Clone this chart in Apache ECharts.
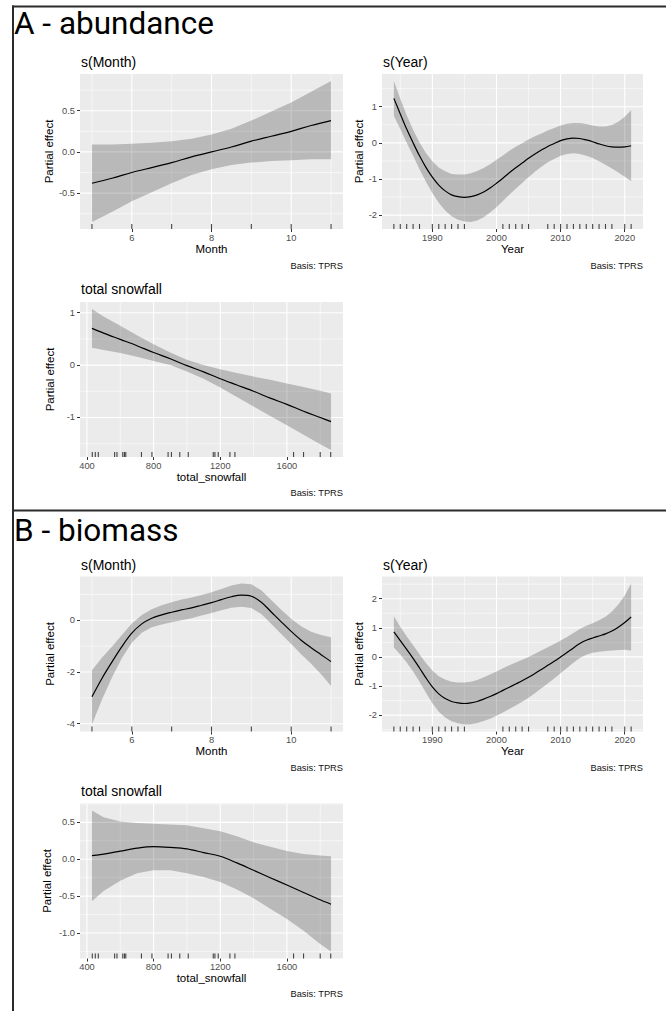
<!DOCTYPE html>
<html>
<head>
<meta charset="utf-8">
<script src="https://cdn.jsdelivr.net/npm/echarts@6/dist/echarts.min.js"></script>
<style>
  html, body { margin: 0; padding: 0; background: #ffffff; }
  #chart { width: 666px; height: 1011px; }
</style>
</head>
<body>
<div id="chart"></div>
<script>
// ---------- smooth terms: abundance model ----------
const abMonthX   = [5, 5.5, 6, 6.5, 7, 7.5, 8, 8.5, 9, 9.5, 10, 10.5, 11];
const abMonthFit = [-0.38, -0.32, -0.25, -0.19, -0.13, -0.06, 0.00, 0.06, 0.13, 0.19, 0.25, 0.32, 0.38];
const abMonthLo  = [-0.85, -0.73, -0.60, -0.49, -0.38, -0.28, -0.21, -0.16, -0.13, -0.11, -0.10, -0.09, -0.09];
const abMonthHi  = [0.09, 0.09, 0.10, 0.11, 0.13, 0.16, 0.21, 0.28, 0.38, 0.49, 0.60, 0.73, 0.86];

const yearX = [1984, 1985, 1986, 1987, 1988, 1989, 1990, 1991, 1992, 1993, 1994, 1995, 1996,
               1997, 1998, 1999, 2000, 2001, 2002, 2003, 2004, 2005, 2006, 2007, 2008, 2009,
               2010, 2011, 2012, 2013, 2014, 2015, 2016, 2017, 2018, 2019, 2020, 2021];
const abYearFit = [1.23, 0.80, 0.38, 0.00, -0.36, -0.68, -0.95, -1.17, -1.33, -1.44, -1.49, -1.51, -1.49,
                   -1.44, -1.36, -1.25, -1.12, -0.98, -0.83, -0.69, -0.56, -0.43, -0.31, -0.20, -0.10, -0.02,
                   0.06, 0.11, 0.13, 0.12, 0.08, 0.03, -0.03, -0.08, -0.11, -0.12, -0.11, -0.08];
const abYearLo  = [0.75, 0.38, 0.00, -0.36, -0.73, -1.08, -1.39, -1.66, -1.87, -2.03, -2.13, -2.18, -2.19,
                   -2.15, -2.06, -1.93, -1.78, -1.61, -1.44, -1.27, -1.11, -0.95, -0.80, -0.66, -0.54, -0.45,
                   -0.36, -0.31, -0.29, -0.31, -0.36, -0.42, -0.51, -0.61, -0.71, -0.82, -0.94, -1.06];
const abYearHi  = [1.71, 1.22, 0.76, 0.36, 0.01, -0.28, -0.51, -0.68, -0.79, -0.86, -0.88, -0.88, -0.84,
                   -0.78, -0.70, -0.59, -0.47, -0.35, -0.22, -0.11, -0.01, 0.09, 0.18, 0.26, 0.34, 0.41,
                   0.48, 0.53, 0.55, 0.55, 0.52, 0.48, 0.45, 0.45, 0.49, 0.58, 0.72, 0.90];

const snowX = [430, 500, 600, 700, 800, 900, 1000, 1100, 1200, 1300, 1400, 1500, 1600, 1700, 1800, 1865];
const abSnowFit = [0.70, 0.61, 0.49, 0.37, 0.24, 0.12, -0.01, -0.13, -0.26, -0.38, -0.50, -0.63, -0.75, -0.88, -1.00, -1.08];
const abSnowLo  = [0.33, 0.29, 0.23, 0.16, 0.08, 0.00, -0.12, -0.26, -0.43, -0.61, -0.79, -0.97, -1.15, -1.33, -1.51, -1.62];
const abSnowHi  = [1.07, 0.93, 0.75, 0.57, 0.40, 0.24, 0.10, 0.00, -0.08, -0.15, -0.22, -0.28, -0.35, -0.42, -0.49, -0.54];

// ---------- smooth terms: biomass model ----------
const bmMonthX   = [5, 5.25, 5.5, 5.75, 6, 6.25, 6.5, 6.75, 7, 7.25, 7.5, 7.75, 8,
                    8.25, 8.5, 8.75, 9, 9.25, 9.5, 9.75, 10, 10.25, 10.5, 10.75, 11];
const bmMonthFit = [-2.96, -2.25, -1.62, -1.02, -0.50, -0.14, 0.08, 0.21, 0.31, 0.40, 0.48, 0.58, 0.68,
                    0.80, 0.91, 0.97, 0.93, 0.70, 0.32, -0.06, -0.43, -0.77, -1.06, -1.33, -1.60];
const bmMonthLo  = [-4.03, -3.07, -2.22, -1.47, -0.87, -0.48, -0.27, -0.16, -0.08, 0.00, 0.08, 0.18, 0.28,
                    0.39, 0.48, 0.52, 0.47, 0.24, -0.14, -0.53, -0.92, -1.31, -1.68, -2.09, -2.54];
const bmMonthHi  = [-1.93, -1.45, -1.02, -0.57, -0.13, 0.20, 0.43, 0.58, 0.70, 0.80, 0.88, 0.98, 1.08,
                    1.21, 1.34, 1.42, 1.39, 1.16, 0.78, 0.41, 0.06, -0.23, -0.44, -0.57, -0.66];

const bmYearFit = [0.86, 0.56, 0.26, -0.05, -0.38, -0.72, -1.03, -1.27, -1.43, -1.53, -1.58, -1.60, -1.58,
                   -1.53, -1.45, -1.36, -1.26, -1.15, -1.04, -0.93, -0.82, -0.70, -0.57, -0.43, -0.29, -0.15,
                   0.00, 0.15, 0.31, 0.46, 0.57, 0.65, 0.72, 0.79, 0.89, 1.02, 1.18, 1.37];
const bmYearLo  = [0.32, 0.08, -0.19, -0.50, -0.85, -1.23, -1.59, -1.88, -2.08, -2.21, -2.28, -2.32, -2.31,
                   -2.27, -2.20, -2.12, -2.02, -1.91, -1.79, -1.67, -1.54, -1.40, -1.25, -1.08, -0.91, -0.74,
                   -0.56, -0.38, -0.20, -0.04, 0.07, 0.14, 0.18, 0.20, 0.22, 0.24, 0.25, 0.22];
const bmYearHi  = [1.40, 1.04, 0.71, 0.40, 0.09, -0.21, -0.47, -0.66, -0.78, -0.85, -0.88, -0.88, -0.85,
                   -0.79, -0.70, -0.60, -0.50, -0.39, -0.29, -0.19, -0.10, 0.00, 0.11, 0.22, 0.33, 0.44,
                   0.56, 0.68, 0.82, 0.96, 1.07, 1.16, 1.26, 1.38, 1.56, 1.80, 2.11, 2.52];

const bmSnowFit = [0.05, 0.07, 0.11, 0.15, 0.17, 0.16, 0.14, 0.09, 0.04, -0.05, -0.15, -0.25, -0.35, -0.45, -0.55, -0.61];
const bmSnowLo  = [-0.57, -0.43, -0.29, -0.19, -0.15, -0.15, -0.19, -0.24, -0.31, -0.41, -0.53, -0.67, -0.81, -0.97, -1.15, -1.25];
const bmSnowHi  = [0.66, 0.57, 0.51, 0.49, 0.48, 0.47, 0.46, 0.42, 0.38, 0.31, 0.23, 0.17, 0.11, 0.07, 0.05, 0.04];

// ---------- observed covariate values (rug) ----------
const monthRug = [5, 6, 7, 8, 9, 10, 11];
const yearRug  = [1984, 1985, 1986, 1987, 1988, 1990, 1991, 1992, 1993, 1994, 1995,
                  2001, 2002, 2003, 2004, 2005, 2008, 2009, 2010, 2011, 2012, 2013,
                  2014, 2015, 2016, 2017, 2018, 2020, 2021];
const snowRug  = [432, 450, 468, 566, 580, 615, 625, 633, 727, 790, 887, 907, 957, 1008,
                  1158, 1168, 1188, 1258, 1288, 1640, 1700, 1800, 1863];

// ---------- axis breaks ----------
const monthTicks    = [6, 8, 10];
const yearTicks     = [1990, 2000, 2010, 2020];
const snowTicks     = [400, 800, 1200, 1600];
const abMonthYTicks = [-0.5, 0, 0.5];
const abYearYTicks  = [-2, -1, 0, 1];
const abSnowYTicks  = [-1, 0, 1];
const bmMonthYTicks = [-4, -2, 0];
const bmYearYTicks  = [-2, -1, 0, 1, 2];
const bmSnowYTicks  = [-1, -0.5, 0, 0.5];

// ---------- panel layout ----------
const FONT = '"Liberation Sans", Arial, sans-serif';
const panels = [
  { grid: { left: 80,  top: 74,    width: 263, height: 155 }, title: 's(Month)', xName: 'Month',
    x: abMonthX, fit: abMonthFit, lo: abMonthLo, hi: abMonthHi, rug: monthRug,
    xTicks: monthTicks, yTicks: abMonthYTicks, yDigits: 1, nameX: 50, titleY: 62, capY: 265.5 },
  { grid: { left: 382, top: 74,    width: 261, height: 155 }, title: 's(Year)', xName: 'Year',
    x: yearX, fit: abYearFit, lo: abYearLo, hi: abYearHi, rug: yearRug,
    xTicks: yearTicks, yTicks: abYearYTicks, yDigits: 0, nameX: 359, titleY: 62, capY: 265.5 },
  { grid: { left: 80,  top: 302,   width: 263, height: 155 }, title: 'total snowfall', xName: 'total_snowfall',
    x: snowX, fit: abSnowFit, lo: abSnowLo, hi: abSnowHi, rug: snowRug,
    xTicks: snowTicks, yTicks: abSnowYTicks, yDigits: 0, nameX: 50, titleY: 288.5, capY: 493 },
  { grid: { left: 80,  top: 576.5, width: 263, height: 155 }, title: 's(Month)', xName: 'Month',
    x: bmMonthX, fit: bmMonthFit, lo: bmMonthLo, hi: bmMonthHi, rug: monthRug,
    xTicks: monthTicks, yTicks: bmMonthYTicks, yDigits: 0, nameX: 50, titleY: 565, capY: 767.5 },
  { grid: { left: 382, top: 576.5, width: 261, height: 155 }, title: 's(Year)', xName: 'Year',
    x: yearX, fit: bmYearFit, lo: bmYearLo, hi: bmYearHi, rug: yearRug,
    xTicks: yearTicks, yTicks: bmYearYTicks, yDigits: 0, nameX: 359, titleY: 565, capY: 767.5 },
  { grid: { left: 80,  top: 803.5, width: 263, height: 155 }, title: 'total snowfall', xName: 'total_snowfall',
    x: snowX, fit: bmSnowFit, lo: bmSnowLo, hi: bmSnowHi, rug: snowRug,
    xTicks: snowTicks, yTicks: bmSnowYTicks, yDigits: 1, nameX: 47, titleY: 790.5, capY: 994 }
];

// ggplot-style 5% expansion of a continuous range
function expandRange(values) {
  const lo = Math.min.apply(null, values), hi = Math.max.apply(null, values);
  const pad = (hi - lo) * 0.05;
  return [lo - pad, hi + pad];
}

// minor breaks sit halfway between the major breaks (and one step beyond them)
function minorBreaks(ticks, range) {
  const step = ticks[1] - ticks[0];
  const out = [];
  for (let v = ticks[0] - step / 2; v <= ticks[ticks.length - 1] + step; v += step) {
    if (v > range[0] && v < range[1]) out.push(v);
  }
  return out;
}

const grids = [], xAxes = [], yAxes = [], series = [], graphics = [];

panels.forEach(function (p, i) {
  const xr = expandRange(p.x.concat(p.rug));
  const yr = expandRange(p.lo.concat(p.hi));
  const xMinor = minorBreaks(p.xTicks, xr);
  const yMinor = minorBreaks(p.yTicks, yr);

  grids.push(Object.assign({ show: true, backgroundColor: '#ebebeb', borderWidth: 0, containLabel: false }, p.grid));

  const common = {
    gridIndex: i, type: 'value',
    axisLine: { show: false, onZero: false },
    splitLine: { show: false },
    nameLocation: 'middle',
    nameTextStyle: { fontFamily: FONT, fontSize: 11.5, color: '#000000' }
  };

  xAxes.push(Object.assign({}, common, {
    min: xr[0], max: xr[1],
    axisTick: { show: true, customValues: p.xTicks, length: 3, lineStyle: { color: '#333333', width: 1 } },
    axisLabel: { customValues: p.xTicks, color: '#4d4d4d', fontSize: 9.3, fontFamily: FONT, margin: 4,
                 formatter: function (v) { return String(v); } },
    name: p.xName, nameGap: 12
  }));

  yAxes.push(Object.assign({}, common, {
    min: yr[0], max: yr[1],
    axisTick: { show: true, customValues: p.yTicks, length: 3, lineStyle: { color: '#333333', width: 1 } },
    axisLabel: {
      customValues: p.yTicks, color: '#4d4d4d', fontSize: 9.3, fontFamily: FONT, margin: 5,
      formatter: (function (d) { return function (v) { return Number(v).toFixed(d); }; })(p.yDigits)
    },
    name: 'Partial effect', nameRotate: 90, nameGap: p.grid.left - p.nameX - 6
  }));

  // panel grid lines (major and minor), beneath the band
  series.push({
    type: 'custom', xAxisIndex: i, yAxisIndex: i, silent: true, clip: true, z: 1,
    data: [[xr[0], yr[0]]],
    renderItem: function (params, api) {
      const kids = [];
      function vline(v, w) {
        const a = api.coord([v, yr[0]]), b = api.coord([v, yr[1]]);
        kids.push({ type: 'line', shape: { x1: a[0], y1: a[1], x2: b[0], y2: b[1] }, style: { stroke: '#ffffff', lineWidth: w } });
      }
      function hline(v, w) {
        const a = api.coord([xr[0], v]), b = api.coord([xr[1], v]);
        kids.push({ type: 'line', shape: { x1: a[0], y1: a[1], x2: b[0], y2: b[1] }, style: { stroke: '#ffffff', lineWidth: w } });
      }
      xMinor.forEach(function (v) { vline(v, 0.55); });
      yMinor.forEach(function (v) { hline(v, 0.55); });
      p.xTicks.forEach(function (v) { vline(v, 1.1); });
      p.yTicks.forEach(function (v) { hline(v, 1.1); });
      return { type: 'group', children: kids };
    }
  });

  // confidence band
  series.push({
    type: 'custom', xAxisIndex: i, yAxisIndex: i, silent: true, clip: true, z: 2,
    data: [[p.x[0], p.lo[0]]],
    renderItem: function (params, api) {
      const pts = [];
      for (let k = 0; k < p.x.length; k++) pts.push(api.coord([p.x[k], p.hi[k]]));
      for (let k = p.x.length - 1; k >= 0; k--) pts.push(api.coord([p.x[k], p.lo[k]]));
      return { type: 'polygon', shape: { points: pts }, style: { fill: 'rgba(0,0,0,0.21)' } };
    }
  });

  // estimated smooth
  series.push({
    type: 'line', xAxisIndex: i, yAxisIndex: i, silent: true, z: 3,
    data: p.x.map(function (v, k) { return [v, p.fit[k]]; }),
    showSymbol: false, smooth: 0.35,
    lineStyle: { color: '#000000', width: 1.2 }
  });

  // rug of observed values along the bottom of the panel
  series.push({
    type: 'scatter', xAxisIndex: i, yAxisIndex: i, silent: true, clip: false, z: 4,
    data: p.rug.map(function (v) { return [v, yr[0]]; }),
    symbol: 'rect', symbolSize: [1.1, 5], symbolOffset: [0, -2.5],
    itemStyle: { color: '#1a1a1a' }
  });

  // panel title and basis caption
  graphics.push({
    type: 'text', x: p.grid.left + 1, y: p.titleY,
    style: { text: p.title, font: '14px ' + FONT, fill: '#000000', textAlign: 'left', textVerticalAlign: 'middle' }
  });
  graphics.push({
    type: 'text', x: p.grid.left + p.grid.width, y: p.capY,
    style: { text: 'Basis: TPRS', font: '9.3px ' + FONT, fill: '#111111', textAlign: 'right', textVerticalAlign: 'middle' }
  });
});

// figure headers and frame
graphics.push(
  { type: 'text', x: 14, y: 23.5, style: { text: 'A - abundance', font: '31.5px Roboto, sans-serif', fill: '#000000', textVerticalAlign: 'middle' } },
  { type: 'text', x: 14, y: 530, style: { text: 'B - biomass', font: '31.5px Roboto, sans-serif', fill: '#000000', textVerticalAlign: 'middle' } },
  { type: 'line', shape: { x1: 12, y1: 6.5, x2: 666, y2: 6.5 }, style: { stroke: '#2b2b2b', lineWidth: 2 } },
  { type: 'line', shape: { x1: 12, y1: 510.5, x2: 666, y2: 510.5 }, style: { stroke: '#2b2b2b', lineWidth: 2 } },
  { type: 'line', shape: { x1: 13, y1: 5.5, x2: 13, y2: 1011 }, style: { stroke: '#2b2b2b', lineWidth: 2 } }
);

const chart = echarts.init(document.getElementById('chart'), null, { renderer: 'svg', width: 666, height: 1011 });
chart.setOption({
  animation: false,
  backgroundColor: '#ffffff',
  grid: grids,
  xAxis: xAxes,
  yAxis: yAxes,
  series: series,
  graphic: graphics
});
</script>
</body>
</html>
